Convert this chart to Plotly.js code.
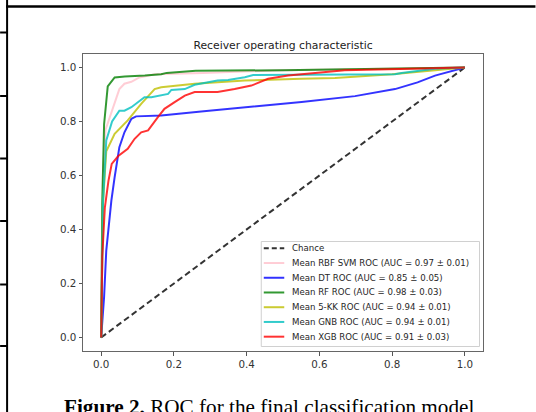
<!DOCTYPE html>
<html><head><meta charset="utf-8">
<script src="https://cdn.plot.ly/plotly-3.0.1.min.js"></script>
<style>html,body{margin:0;padding:0;background:#fff;}#chart{width:536px;height:412px;}</style>
</head><body><div id="chart"></div>
<script>
// ---- data ----
const legendNames = [
  'Chance',
  'Mean RBF SVM ROC (AUC = 0.97 ± 0.01)',
  'Mean DT ROC (AUC = 0.85 ± 0.05)',
  'Mean RF ROC (AUC = 0.98 ± 0.03)',
  'Mean 5-KK ROC (AUC = 0.94 ± 0.01)',
  'Mean GNB ROC (AUC = 0.94 ± 0.01)',
  'Mean XGB ROC (AUC = 0.91 ± 0.03)'
];
const tickVals = [0, 0.2, 0.4, 0.6, 0.8, 1.0];
const tickLabels = ['0.0', '0.2', '0.4', '0.6', '0.8', '1.0'];

const chanceFpr = [0, 1];
const chanceTpr = [0, 1];

const svmFpr = [0, 0.005, 0.012, 0.022, 0.03, 0.05, 0.064, 0.083, 0.105, 0.147, 0.28, 0.5, 1];
const svmTpr = [0, 0.62, 0.77, 0.81, 0.84, 0.92, 0.94, 0.947, 0.963, 0.975, 0.98, 0.99, 1];

const dtFpr = [0, 0.008, 0.014, 0.028, 0.037, 0.05, 0.064, 0.083, 0.096, 0.165, 0.275, 0.4, 0.551, 0.698, 0.808, 0.87, 0.918, 1];
const dtTpr = [0, 0.15, 0.322, 0.507, 0.594, 0.705, 0.76, 0.81, 0.819, 0.822, 0.837, 0.852, 0.872, 0.894, 0.92, 0.945, 0.97, 1];

const rfFpr = [0, 0.003, 0.008, 0.018, 0.037, 0.065, 0.12, 0.165, 0.18, 0.26, 0.5, 0.8, 1];
const rfTpr = [0, 0.5, 0.79, 0.93, 0.963, 0.967, 0.97, 0.975, 0.98, 0.988, 0.99, 0.995, 1];

const knnFpr = [0, 0.005, 0.014, 0.037, 0.073, 0.11, 0.147, 0.165, 0.257, 0.395, 0.55, 0.643, 0.8, 0.918, 1];
const knnTpr = [0, 0.5, 0.69, 0.754, 0.804, 0.865, 0.92, 0.927, 0.94, 0.952, 0.958, 0.961, 0.975, 0.989, 1];

const gnbFpr = [0, 0.005, 0.014, 0.03, 0.05, 0.064, 0.083, 0.119, 0.138, 0.184, 0.193, 0.23, 0.257, 0.294, 0.32, 0.349, 0.395, 0.418, 0.808, 0.826, 0.88, 0.918, 1];
const gnbTpr = [0, 0.5, 0.73, 0.8, 0.84, 0.84, 0.853, 0.89, 0.89, 0.902, 0.917, 0.92, 0.936, 0.946, 0.952, 0.954, 0.964, 0.972, 0.975, 0.98, 0.989, 0.995, 1];

const xgbFpr = [0, 0.003, 0.01, 0.02, 0.029, 0.047, 0.073, 0.092, 0.11, 0.129, 0.156, 0.174, 0.202, 0.23, 0.257, 0.32, 0.367, 0.413, 0.459, 0.487, 0.514, 0.67, 0.85, 1];
const xgbTpr = [0, 0.3, 0.48, 0.58, 0.643, 0.672, 0.699, 0.736, 0.76, 0.767, 0.816, 0.847, 0.872, 0.896, 0.909, 0.909, 0.92, 0.933, 0.958, 0.964, 0.97, 0.99, 0.995, 1];

const captionBold = 'Figure 2.';
const captionRest = ' ROC for the final classification model';

// ---- styling ----
const seriesColors = ['#000000', '#ffc0cb', '#0000ff', '#008000', '#bfbf00', '#00bfbf', '#ff0000'];
const seriesX = [chanceFpr, svmFpr, dtFpr, rfFpr, knnFpr, gnbFpr, xgbFpr];
const seriesY = [chanceTpr, svmTpr, dtTpr, rfTpr, knnTpr, gnbTpr, xgbTpr];

const W = 536, H = 412;
const M = {l: 83, r: 52.5, t: 54, b: 61};
const PW = W - M.l - M.r, PH = H - M.t - M.b;
const px2x = p => (p - M.l) / PW;
const px2y = p => (H - M.b - p) / PH;

const traces = seriesX.map((xs, i) => ({
  x: xs, y: seriesY[i], type: 'scatter', mode: 'lines', name: legendNames[i],
  opacity: 0.8,
  line: {color: seriesColors[i], width: 2, dash: i === 0 ? '6px,3.5px' : 'solid', shape: 'linear'},
  hoverinfo: 'skip'
}));

const shapes = [];
const annotations = [];

// legend box
const lgL = 261.5, lgR = 480, lgT = 241.5, lgB = 346.5;
shapes.push({type: 'rect', xref: 'paper', yref: 'paper', x0: px2x(lgL), x1: px2x(lgR), y0: px2y(lgB), y1: px2y(lgT),
  fillcolor: 'rgba(255,255,255,0.8)', line: {color: '#d0d0d0', width: 1}, layer: 'above'});
legendNames.forEach((nm, i) => {
  const yy = 248.3 + i * 14.73;
  shapes.push({type: 'line', xref: 'paper', yref: 'paper', x0: px2x(264), x1: px2x(284.5), y0: px2y(yy), y1: px2y(yy),
    opacity: 0.8, line: {color: seriesColors[i], width: 2, dash: i === 0 ? '5px,3px' : 'solid'}, layer: 'above'});
  annotations.push({xref: 'paper', yref: 'paper', x: px2x(290.5), y: px2y(yy), xanchor: 'left', yanchor: 'middle',
    text: nm, showarrow: false, font: {family: 'DejaVu Sans', size: 8.6, color: '#262626'}});
});

// page frame lines (table borders)
const blk = {color: '#000', width: 2};
shapes.push({type: 'line', xref: 'paper', yref: 'paper', x0: px2x(7), x1: px2x(7), y0: px2y(0), y1: px2y(H), line: blk});
shapes.push({type: 'line', xref: 'paper', yref: 'paper', x0: px2x(6), x1: px2x(W), y0: px2y(6.5), y1: px2y(6.5), line: {color: '#000', width: 2.5}});
[32.5, 96, 158.5, 221, 284.5, 346].forEach(yy => {
  shapes.push({type: 'line', xref: 'paper', yref: 'paper', x0: px2x(0), x1: px2x(7), y0: px2y(yy), y1: px2y(yy), line: blk});
});

// caption
annotations.push({xref: 'paper', yref: 'paper', x: px2x(269.5), y: px2y(393), xanchor: 'center', yanchor: 'top',
  text: '<b>' + captionBold + '</b>' + captionRest, showarrow: false,
  font: {family: 'Liberation Serif, Times New Roman, serif', size: 21.2, color: '#000'}});

const axisCommon = {
  range: [-0.05, 1.05], tickvals: tickVals, ticktext: tickLabels,
  ticks: 'outside', ticklen: 3.5, tickwidth: 1, tickcolor: '#555',
  showline: true, linecolor: '#666', linewidth: 1, mirror: true,
  showgrid: false, zeroline: false,
  tickfont: {family: 'DejaVu Sans', size: 10.3, color: '#333'}, fixedrange: true
};

const layout = {
  width: W, height: H, margin: M,
  paper_bgcolor: '#fff', plot_bgcolor: '#fff',
  showlegend: false,
  title: {text: 'Receiver operating characteristic', xref: 'paper', x: 0.5, xanchor: 'center',
    yref: 'paper', y: 1, yanchor: 'bottom', pad: {b: 5},
    font: {family: 'DejaVu Sans', size: 10.8, color: '#222'}},
  xaxis: Object.assign({}, axisCommon),
  yaxis: Object.assign({}, axisCommon),
  shapes: shapes, annotations: annotations
};

Plotly.newPlot('chart', traces, layout, {displayModeBar: false, staticPlot: true});
</script></body></html>
